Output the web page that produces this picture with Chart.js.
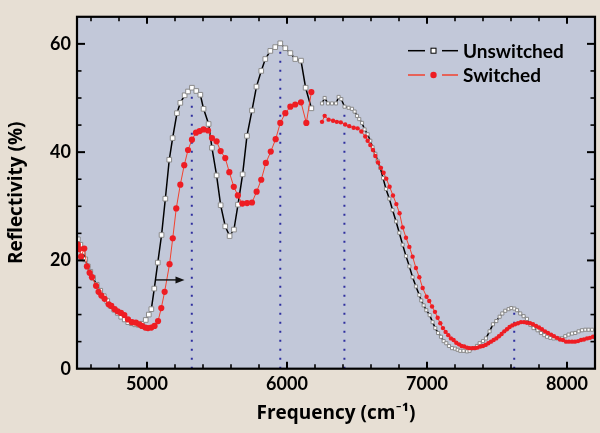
<!DOCTYPE html>
<html><head><meta charset="utf-8">
<script src="https://cdn.jsdelivr.net/npm/chart.js@4/dist/chart.umd.min.js"></script>
<style>html,body{margin:0;padding:0;background:#e7dfd4;}canvas{display:block;}</style>
</head><body>
<canvas id="c" width="600" height="433"></canvas>
<script>
const xTickValues=[5000,6000,7000,8000];
const yTickValues=[0,20,40,60];
const seriesNames=['Unswitched','Switched'];
const xTitle='Frequency (cm\u207B\u00B9)';
const yTitle='Reflectivity (%)';

const unswitchedFreq=[4506,4524,4541,4559,4577,4595,4615,4641,4666,4691,4716,4741,4766,4791,4816,4841,4866,4891,4916,4941,4966,4991,5013,5031,5052,5077,5104,5131,5159,5183,5214,5238,5269,5293,5321,5352,5381,5404,5440,5464,5497,5526,5559,5590,5621,5650,5683,5714,5750,5782,5816,5845,5881,5916,5952,5988,6024,6059,6100,6133,6174,6210,6250,6269,6293,6321,6350,6369,6388,6411,6440,6464,6483,6500,6516,6536,6554,6576,6595,6611,6631,6647,6666,6686,6707,6731,6754,6779,6802,6826,6850,6874,6897,6921,6945,6959,6976,6995,7019,7040,7059,7079,7100,7119,7138,7157,7179,7200,7219,7238,7261,7286,7304,7333,7357,7376,7400,7421,7447,7471,7495,7519,7538,7559,7583,7602,7624,7643,7666,7690,7714,7738,7761,7790,7814,7838,7857,7881,7904,7929,7947,7964,7988,8011,8036,8059,8083,8107,8131,8154,8179];
const unswitchedRefl=[23.9,22.9,21.6,20.2,18.9,17.9,16.8,15.5,14.4,13.4,12.5,11.6,10.9,10.3,9.6,9.1,8.6,8.4,8.2,8.1,8.3,9.0,10.0,11.0,14.8,19.6,24.7,31.4,38.6,42.6,47.2,49.1,50.5,51.2,51.9,51.3,50.6,48.0,45.2,40.8,35.7,30.2,26.3,24.5,25.7,30.3,35.9,43.0,47.7,52.1,55.0,57.2,58.7,59.4,60.1,59.2,58.3,57.2,56.9,51.9,48.1,null,49.0,50.0,49.0,49.0,49.0,50.2,49.8,48.4,48.2,48.0,47.5,46.7,46.1,45.4,44.2,43.3,42.1,40.9,39.7,38.4,37.1,35.2,33.2,31.4,29.3,27.2,25.1,22.9,20.8,18.9,16.9,15.2,13.6,12.6,11.7,10.8,9.9,8.6,7.5,6.6,5.9,5.1,4.7,4.2,3.8,3.7,3.5,3.3,3.3,3.2,3.3,3.8,4.2,4.7,5.1,5.6,6.9,8.2,8.8,9.6,10.2,10.7,11.0,11.2,11.1,10.8,10.2,9.7,9.2,8.1,7.5,7.1,6.6,6.2,5.9,5.7,5.6,5.6,5.6,5.6,6.0,6.3,6.5,6.6,6.9,7.1,7.2,7.2,7.2];

const switchedFreq=[4506,4516,4529,4552,4571,4590,4607,4636,4654,4674,4697,4726,4745,4769,4790,4814,4838,4864,4893,4921,4945,4964,4988,5007,5031,5054,5079,5102,5126,5161,5184,5209,5238,5266,5293,5321,5350,5376,5404,5436,5464,5497,5526,5559,5588,5620,5649,5681,5715,5750,5783,5816,5849,5884,5919,5952,5988,6024,6059,6100,6138,6174,6210,6250,6269,6297,6329,6356,6384,6416,6445,6476,6504,6531,6559,6576,6595,6614,6631,6650,6671,6690,6709,6733,6757,6781,6804,6826,6850,6874,6897,6921,6945,6969,6997,7016,7036,7057,7076,7095,7114,7133,7152,7171,7190,7209,7229,7247,7266,7286,7304,7324,7343,7361,7381,7400,7419,7438,7457,7476,7495,7514,7533,7552,7571,7590,7609,7629,7650,7671,7693,7714,7736,7757,7779,7800,7821,7843,7864,7886,7907,7929,7950,7971,7993,8014,8036,8057,8079,8100,8121,8143,8164,8186];
const switchedRefl=[22.9,22.1,20.7,22.2,18.9,17.7,16.9,15.3,14.2,13.5,12.9,11.9,11.6,11.0,10.6,10.3,9.9,9.1,8.6,8.5,8.2,7.9,7.6,7.5,7.6,7.9,8.8,11.2,14.2,19.3,24.1,29.6,34.0,37.6,40.4,42.3,43.6,43.9,44.2,44.0,42.6,42.0,40.2,38.9,36.3,33.6,32.0,30.5,30.6,30.7,32.7,34.9,38.0,40.1,42.4,45.4,47.2,48.4,48.8,49.2,45.4,51.1,null,45.6,46.7,46.0,45.8,45.6,45.5,45.1,44.8,44.5,44.4,43.8,42.9,42.1,41.3,40.4,39.3,38.1,37.1,36.2,35.1,33.6,32.0,30.4,28.7,26.1,24.2,22.5,20.7,18.6,16.9,14.9,13.3,12.5,11.5,10.5,9.4,8.4,7.5,6.8,6.2,5.6,5.3,4.8,4.5,4.2,4.1,3.9,3.8,3.8,3.8,3.9,4.1,4.2,4.4,4.7,5.0,5.3,5.6,6.0,6.4,6.9,7.3,7.7,8.0,8.2,8.4,8.6,8.6,8.5,8.4,8.2,7.9,7.6,7.3,6.9,6.6,6.3,6.0,5.7,5.4,5.3,5.0,5.0,5.0,5.0,5.1,5.3,5.4,5.6,5.7,5.9];

const markerFreq=[5320,5952,6410,7623];
const markerTop=[51.6,60.1,48.8,10.6];
const arrowFreq=[5064,5268];
const arrowRefl=[16.4,16.4];

const FONT='Lato, "Open Sans", sans-serif';
const TFONT='"Open Sans", Lato, sans-serif';
const coarseLimit=6200;
const toPts=(f,r)=>f.map((x,i)=>({x:x,y:r[i]}));

const datasets=[
 {label:seriesNames[1],data:toPts(switchedFreq,switchedRefl),borderColor:'#f2422e',borderWidth:1,
  pointStyle:'circle',pointBackgroundColor:'#ee1d23',pointBorderColor:'#ee1d23',pointBorderWidth:0,
  pointRadius:c=>(c.raw&&c.raw.x<coarseLimit)?3.1:2.2,tension:0,order:0},
 {label:seriesNames[0],data:toPts(unswitchedFreq,unswitchedRefl),borderColor:'#000',borderWidth:1.5,
  pointStyle:'rect',pointBackgroundColor:'#fff',pointBorderColor:'#8a8a8a',pointBorderWidth:1,
  pointRadius:c=>(c.raw&&c.raw.x<coarseLimit)?3.3:2.2,tension:0,order:1}
];
markerFreq.forEach((f,i)=>datasets.push({label:'m'+i,data:[{x:f,y:0},{x:f,y:markerTop[i]}],
  borderColor:'#2e2e9e',borderWidth:2,borderDash:[2,7],pointRadius:0,order:5}));

const deco={id:'deco',
 beforeDraw(chart){const{ctx,width,height}=chart;ctx.save();ctx.fillStyle='#e7dfd4';ctx.fillRect(0,0,width,height);ctx.restore();},
 beforeDatasetsDraw(chart){const{ctx,chartArea:a}=chart;ctx.save();ctx.fillStyle='#c2c8d9';ctx.fillRect(a.left,a.top,a.right-a.left,a.bottom-a.top);ctx.restore();},
 afterDatasetsDraw(chart){
  const{ctx,chartArea:a}=chart;const xs=chart.scales.x,ys=chart.scales.y;
  ctx.save();
  const x0=xs.getPixelForValue(arrowFreq[0]),x1=xs.getPixelForValue(arrowFreq[1]);
  const y0=ys.getPixelForValue(arrowRefl[0]),y1=ys.getPixelForValue(arrowRefl[1]);
  ctx.strokeStyle='#111';ctx.fillStyle='#111';ctx.lineWidth=1.4;
  ctx.beginPath();ctx.moveTo(x0,y0);ctx.lineTo(x1-7,y1);ctx.stroke();
  ctx.beginPath();ctx.moveTo(x1,y1);ctx.lineTo(x1-9,y1-3.5);ctx.lineTo(x1-9,y1+3.5);ctx.closePath();ctx.fill();
  ctx.strokeStyle='#000';
  const line=(a1,b1,a2,b2)=>{ctx.beginPath();ctx.moveTo(a1,b1);ctx.lineTo(a2,b2);ctx.stroke();};
  for(let v=4600;v<8200;v+=200){const p=xs.getPixelForValue(v);const maj=v%1000===0;ctx.lineWidth=maj?2:1.6;const L=maj?7:4.5;
   line(p,a.bottom,p,a.bottom-L);line(p,a.top,p,a.top+L);}
  for(let v=5;v<65;v+=5){const p=ys.getPixelForValue(v);const maj=v%20===0;ctx.lineWidth=maj?2:1.6;const L=maj?8:4.5;
   line(a.left,p,a.left+L,p);line(a.right,p,a.right-L,p);}
  ctx.lineWidth=2.2;ctx.strokeRect(a.left,a.top,a.right-a.left,a.bottom-a.top);
  const rows=[{y:50.7,c:'#000',t:seriesNames[0],sq:true},{y:75,c:'#f2422e',t:seriesNames[1],sq:false}];
  rows.forEach(r=>{
   ctx.strokeStyle=r.c;ctx.lineWidth=1.5;
   line(408,r.y,425,r.y);line(442,r.y,458,r.y);
   if(r.sq){ctx.fillStyle='#fff';ctx.fillRect(431,r.y-2.5,5,5);ctx.strokeStyle='#000';ctx.lineWidth=1;ctx.strokeRect(431,r.y-2.5,5,5);}
   else{ctx.fillStyle='#ee1d23';ctx.beginPath();ctx.arc(433.5,r.y,3.2,0,Math.PI*2);ctx.fill();}
   ctx.fillStyle='#000';ctx.font='bold 19px '+FONT;ctx.textBaseline='middle';ctx.textAlign='left';
   ctx.fillText(r.t,463,r.y+1);
  });
  ctx.restore();
 }};

new Chart(document.getElementById('c'),{
 type:'line',
 data:{datasets:datasets},
 options:{responsive:false,animation:false,devicePixelRatio:1,
  layout:{padding:{top:6,right:5,left:0,bottom:0}},
  plugins:{legend:{display:false},tooltip:{enabled:false}},
  scales:{
   x:{type:'linear',min:4500,max:8200,grid:{display:false,drawTicks:false},border:{display:false},
    afterBuildTicks:s=>{s.ticks=xTickValues.map(v=>({value:v}));},
    afterFit:s=>{s.height=64.3;},
    ticks:{color:'#000',font:{family:FONT,weight:'bold',size:18},padding:5,maxRotation:0,autoSkip:false,callback:v=>String(v)},
    title:{display:true,text:xTitle,color:'#000',font:{family:TFONT,weight:'bold',size:19},padding:{top:0,bottom:8}}},
   y:{type:'linear',min:0,max:65,grid:{display:false,drawTicks:false},border:{display:false},
    afterBuildTicks:s=>{s.ticks=yTickValues.map(v=>({value:v}));},
    afterFit:s=>{s.width=77;},
    ticks:{color:'#000',font:{family:FONT,weight:'bold',size:18},padding:6,autoSkip:false,callback:v=>String(v)},
    title:{display:true,text:yTitle,color:'#000',font:{family:TFONT,weight:'bold',size:19},padding:{top:5,bottom:0}}}
  }},
 plugins:[deco]
});
</script>
</body></html>
